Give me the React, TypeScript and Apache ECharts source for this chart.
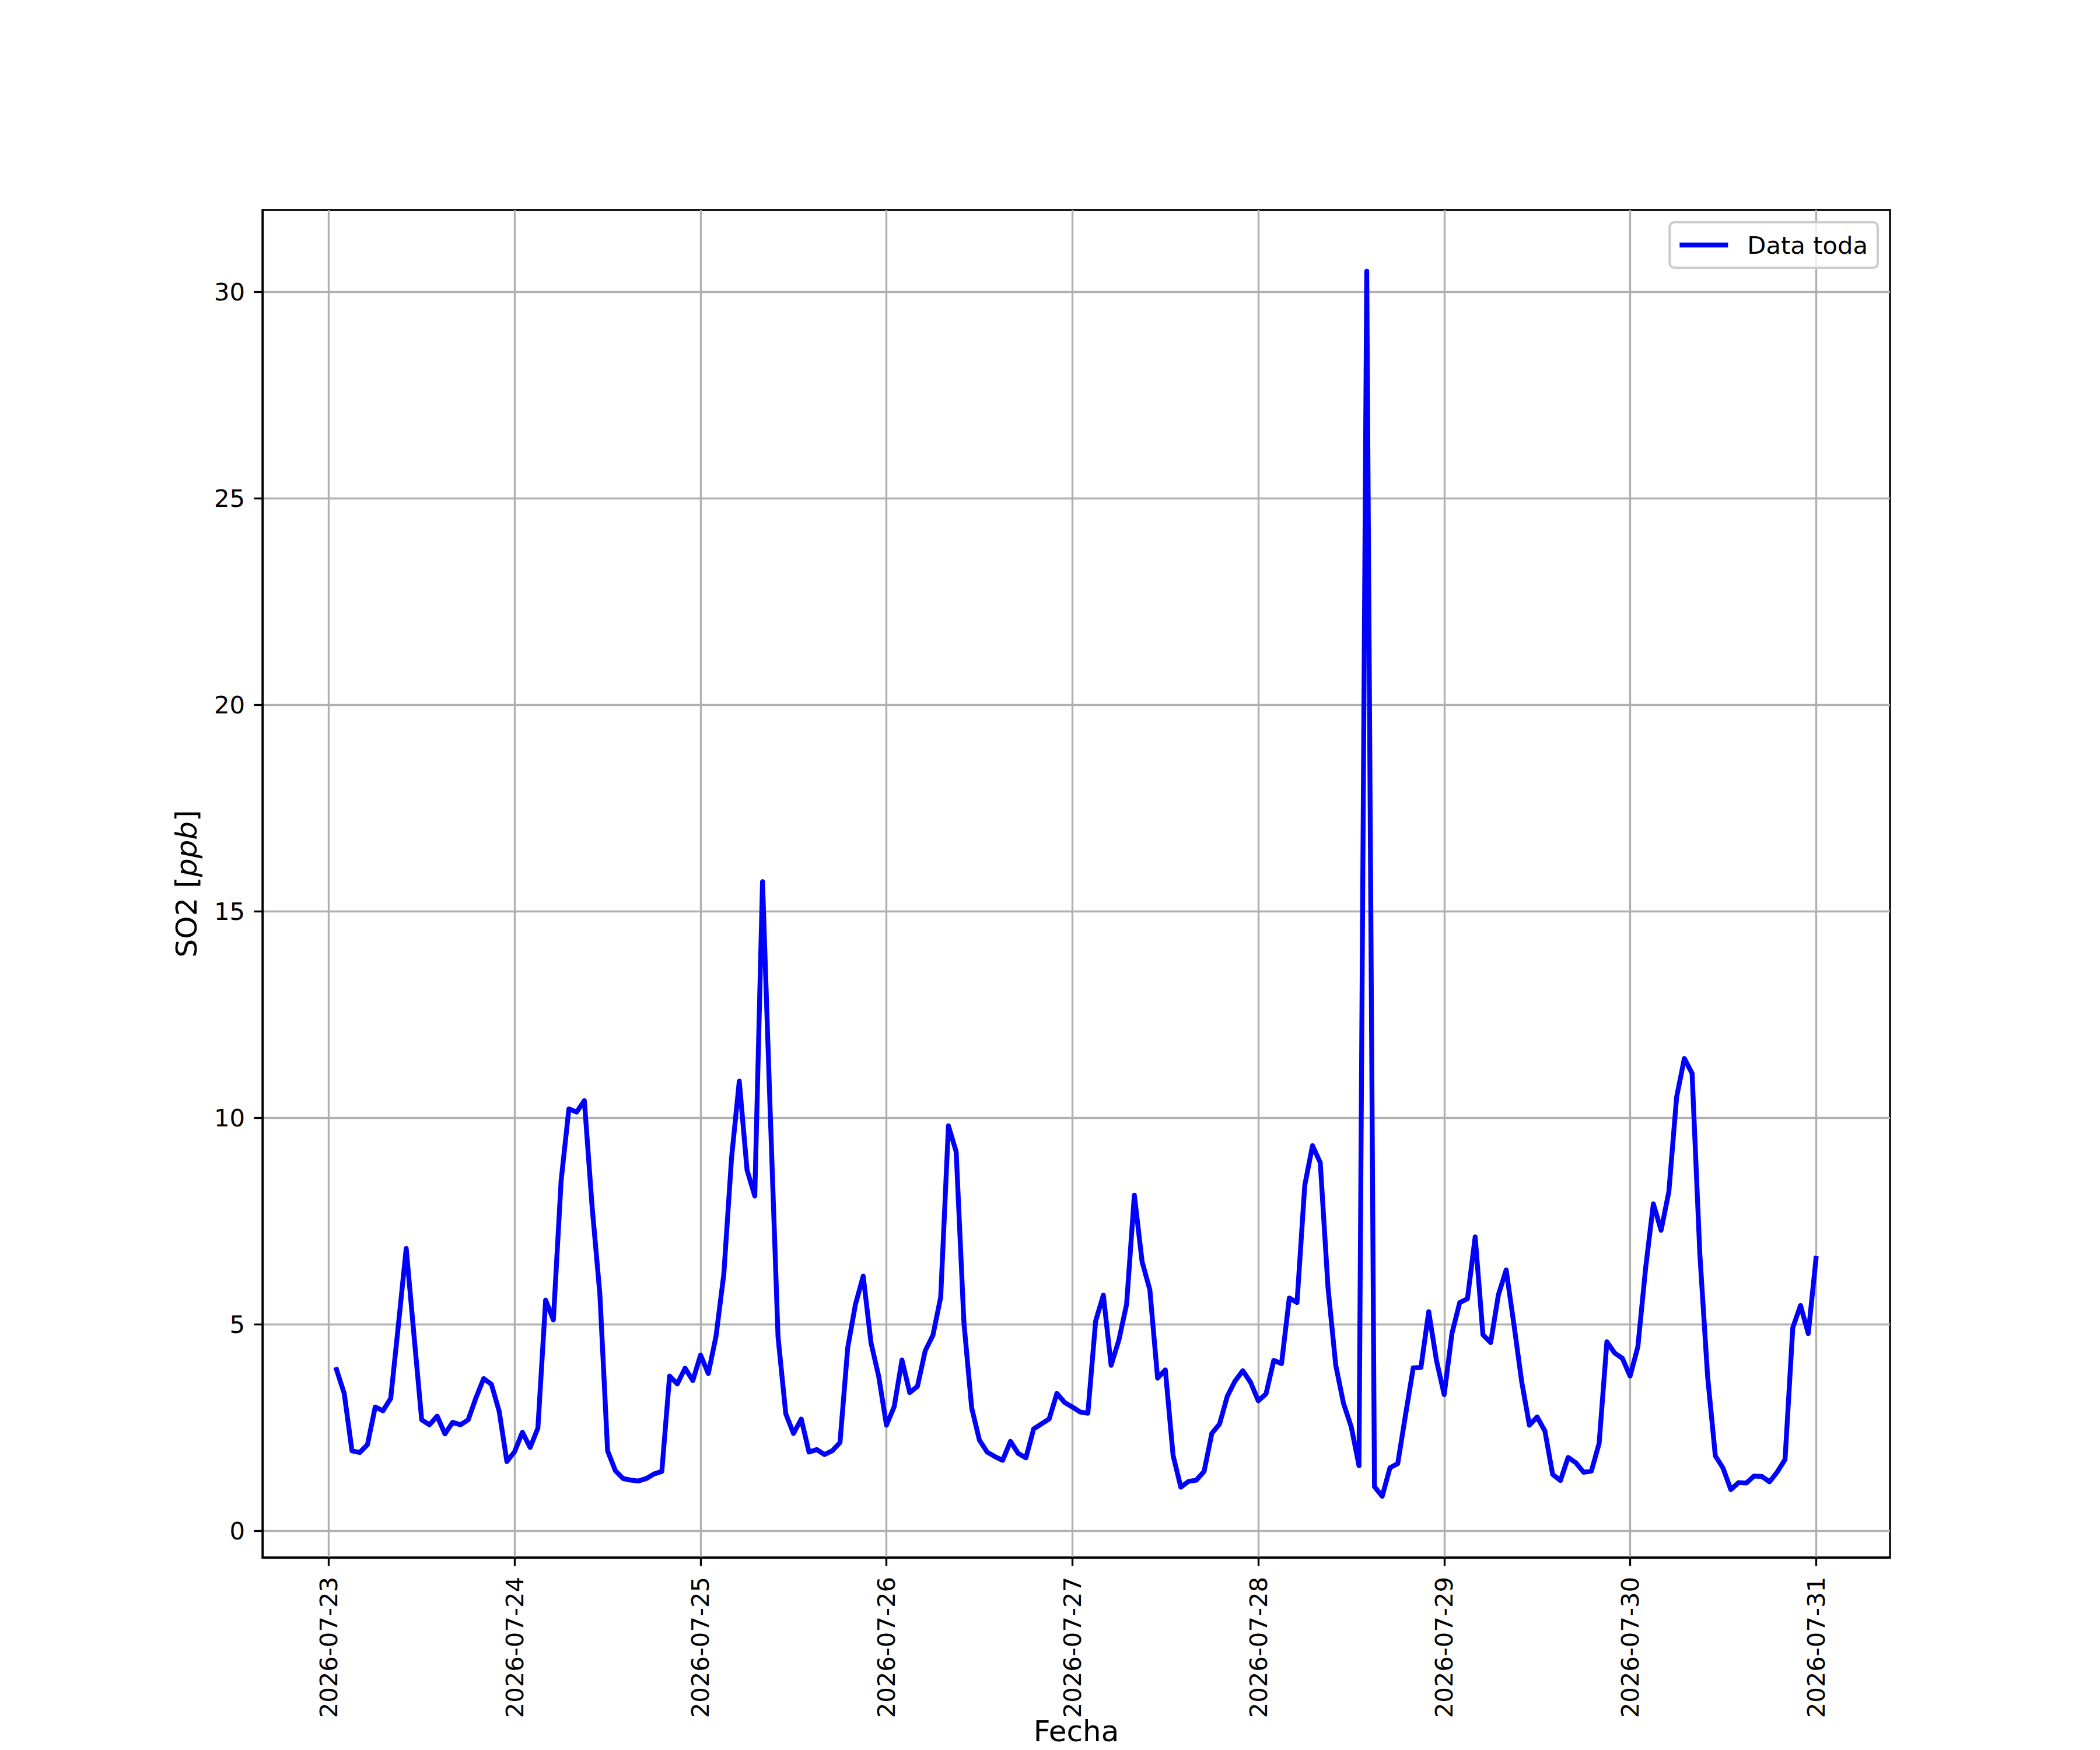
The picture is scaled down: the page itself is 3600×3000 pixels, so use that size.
import React, { useEffect, useRef } from "react";
import * as echarts from "echarts";

// Hourly SO2 readings, first reading at 2026-07-23 01:00
const firstHour = 1;
const so2Values = [
  3.91, 3.33, 1.94, 1.9, 2.09, 3.0, 2.91, 3.21, 5.0, 6.84, 4.75, 2.69,
  2.57, 2.78, 2.35, 2.63, 2.57, 2.69, 3.22, 3.69, 3.55, 2.9, 1.68, 1.92,
  2.39, 2.02, 2.49, 5.59, 5.11, 8.48, 10.22, 10.14, 10.42, 7.85, 5.74, 1.94,
  1.46, 1.27, 1.23, 1.21, 1.27, 1.38, 1.44, 3.75, 3.56, 3.94, 3.64, 4.26,
  3.81, 4.72, 6.21, 9.03, 10.89, 8.74, 8.11, 15.72, 10.1, 4.7, 2.84, 2.36,
  2.71, 1.91, 1.97, 1.85, 1.94, 2.14, 4.44, 5.49, 6.17, 4.56, 3.74, 2.56,
  3.01, 4.14, 3.35, 3.5, 4.36, 4.74, 5.66, 9.81, 9.18, 5.04, 2.98, 2.2,
  1.91, 1.8, 1.71, 2.17, 1.88, 1.77, 2.47, 2.59, 2.71, 3.33, 3.11, 3.0,
  2.88, 2.85, 5.08, 5.71, 4.01, 4.62, 5.49, 8.13, 6.52, 5.84, 3.7, 3.9,
  1.83, 1.06, 1.2, 1.23, 1.44, 2.36, 2.59, 3.26, 3.63, 3.88, 3.6, 3.15,
  3.32, 4.13, 4.05, 5.64, 5.53, 8.37, 9.33, 8.92, 5.89, 4.01, 3.09, 2.52,
  1.58, 30.5, 1.07, 0.84, 1.53, 1.63, 2.8, 3.95, 3.96, 5.31, 4.13, 3.3,
  4.78, 5.53, 5.62, 7.12, 4.75, 4.56, 5.72, 6.32, 5.0, 3.62, 2.56, 2.76,
  2.42, 1.37, 1.22, 1.78, 1.65, 1.42, 1.45, 2.12, 4.58, 4.31, 4.18, 3.75,
  4.46, 6.36, 7.92, 7.28, 8.21, 10.5, 11.44, 11.08, 6.71, 3.75, 1.82, 1.52,
  1.0, 1.17, 1.16, 1.33, 1.32, 1.19, 1.43, 1.73, 4.92, 5.46, 4.78, 6.6,
];

const dateLabels = [
  "2026-07-23", "2026-07-24", "2026-07-25", "2026-07-26", "2026-07-27",
  "2026-07-28", "2026-07-29", "2026-07-30", "2026-07-31",
];
const yTickValues = [0, 5, 10, 15, 20, 25, 30];
const seriesName = "Data toda";
const xTitle = "Fecha";

export default function App() {
  const ref = useRef<HTMLDivElement>(null);

  useEffect(() => {
    if (!ref.current) return;
    const chart = echarts.init(ref.current, undefined, { renderer: "svg" });

    const points = so2Values.map((v, i) => [firstHour + i, v]);
    const xs = points.map((p) => p[0]);
    const xLo = Math.min(...xs);
    const xHi = Math.max(...xs);
    const xPad = (xHi - xLo) * 0.05;
    const yLo = Math.min(...so2Values);
    const yHi = Math.max(...so2Values);
    const yPad = (yHi - yLo) * 0.05;
    const xTickValues = dateLabels.map((_, i) => i * 24);

    const fs = 41.7;
    const titleFs = 50;
    const lw = 3.33;
    const font = "DejaVu Sans";

    chart.setOption({
      animation: false,
      backgroundColor: "#ffffff",
      textStyle: { fontFamily: font },
      grid: {
        left: 450,
        right: 360,
        top: 360,
        bottom: 330,
        outerBoundsMode: "none",
        containLabel: false,
        show: true,
        borderColor: "#000000",
        borderWidth: lw,
        backgroundColor: "#ffffff",
      },
      legend: {
        right: 381,
        top: 381,
        data: [{ name: seriesName, icon: "rect" }],
        itemWidth: 83,
        itemHeight: 8.33,
        padding: [17, 17, 17, 17],
        backgroundColor: "rgba(255,255,255,0.8)",
        borderColor: "#cccccc",
        borderWidth: 4.2,
        borderRadius: 8,
        textStyle: {
          fontSize: fs,
          color: "#000000",
          fontFamily: font,
          padding: [0, 0, 0, 28],
          lineHeight: 44,
        },
      },
      xAxis: {
        type: "value",
        min: xLo - xPad,
        max: xHi + xPad,
        axisLine: { show: true, onZero: false, lineStyle: { color: "#000000", width: lw } },
        axisTick: {
          show: true,
          length: 14.6,
          customValues: xTickValues,
          lineStyle: { color: "#000000", width: lw },
        },
        axisLabel: {
          customValues: xTickValues,
          rotate: 90,
          margin: 33,
          fontSize: fs,
          color: "#000000",
          fontFamily: font,
          formatter: (v: number) => dateLabels[Math.round(v / 24)] ?? "",
        },
        splitLine: { show: true, lineStyle: { color: "#b0b0b0", width: lw } },
        name: xTitle,
        nameLocation: "middle",
        nameGap: 298,
        nameMoveOverlap: false,
        nameTextStyle: {
          fontSize: titleFs,
          color: "#000000",
          fontFamily: font,
          verticalAlign: "middle",
          lineHeight: 40,
        },
      },
      yAxis: {
        type: "value",
        min: yLo - yPad,
        max: yHi + yPad,
        axisLine: { show: true, onZero: false, lineStyle: { color: "#000000", width: lw } },
        axisTick: {
          show: true,
          length: 14.6,
          customValues: yTickValues,
          lineStyle: { color: "#000000", width: lw },
        },
        axisLabel: {
          customValues: yTickValues,
          margin: 30,
          fontSize: fs,
          color: "#000000",
          fontFamily: font,
          formatter: (v: number) => String(Math.round(v)),
        },
        splitLine: { show: true, lineStyle: { color: "#b0b0b0", width: lw } },
        name: "SO2 [{i|ppb}]",
        nameLocation: "middle",
        nameGap: 105,
        nameMoveOverlap: false,
        nameTextStyle: {
          fontSize: titleFs,
          color: "#000000",
          fontFamily: font,
          rich: { i: { fontSize: titleFs, fontStyle: "italic", fontFamily: font, color: "#000000" } },
        },
      },
      series: [
        {
          name: seriesName,
          type: "line",
          data: points,
          showSymbol: false,
          symbol: "none",
          color: "#0000ff",
          lineStyle: { color: "#0000ff", width: 8.33, join: "round", cap: "square" },
        },
      ],
    });

    return () => chart.dispose();
  }, []);

  return (
    <div
      ref={ref}
      style={{ position: "fixed", left: 0, top: 0, width: 3600, height: 3000 }}
    />
  );
}
